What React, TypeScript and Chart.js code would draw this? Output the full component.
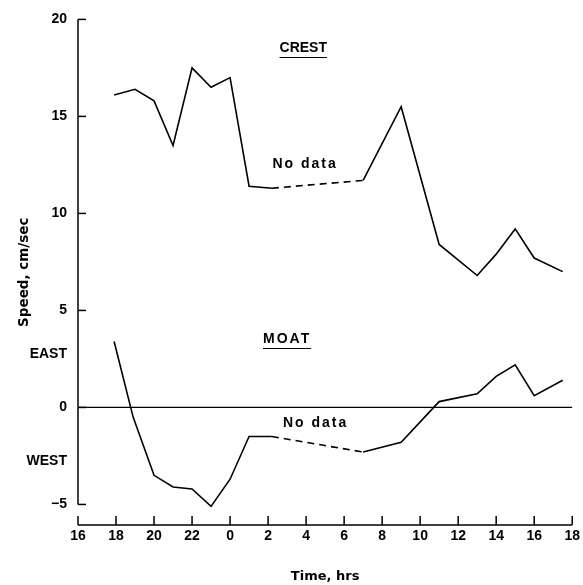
import React, { useEffect, useRef } from 'react';
import { Chart, registerables } from 'chart.js';

Chart.register(...registerables);

// Time in hours since 0h of first day (16 = 16:00, 24 = 0:00 next day, ...)
const crestHours = [17.9, 19, 20, 21, 22, 23, 24, 25, 26.2, 31, 33, 35, 37, 38, 39, 40, 41.5];
const crestSpeed = [16.1, 16.4, 15.8, 13.5, 17.5, 16.5, 17.0, 11.4, 11.3, 11.7, 15.5, 8.4, 6.8, 7.9, 9.2, 7.7, 7.0];

const moatHours = [17.9, 18.9, 20, 21, 22, 23, 24, 25, 26.2, 31, 33, 35, 37, 38, 39, 40, 41.5];
const moatSpeed = [3.4, -0.5, -3.5, -4.1, -4.2, -5.1, -3.7, -1.5, -1.5, -2.3, -1.8, 0.3, 0.7, 1.6, 2.2, 0.6, 1.4];

// index of the segment start where there is no data (dashed)
const noDataSegmentStart = 8;

const xMin = 16;
const xMax = 42;
const xStep = 2;

const yTickValues = [-5, -2.75, 0, 2.75, 5, 10, 15, 20];
const yTickLabels = ['\u22125', 'WEST', '0', 'EAST', '5', '10', '15', '20'];
const yTickMarks = [-5, 0, 5, 10, 15, 20];

const FONT = '"Liberation Sans", Arial, sans-serif';
const WIDE_FONT = '"DejaVu Sans", sans-serif';

const axesPlugin = {
  id: 'customAxes',
  afterDraw(chart: any) {
    const ctx = chart.ctx;
    const xs = chart.scales.x;
    const ys = chart.scales.y;
    const x0 = xs.getPixelForValue(xMin);
    const x1 = xs.getPixelForValue(xMax);
    const bottom = chart.chartArea.bottom;
    ctx.save();
    ctx.strokeStyle = '#000';
    ctx.lineWidth = 1.5;
    // y axis line from -5 to 20
    ctx.beginPath();
    ctx.moveTo(x0, ys.getPixelForValue(-5));
    ctx.lineTo(x0, ys.getPixelForValue(20));
    ctx.stroke();
    // y tick marks (inward)
    yTickMarks.forEach((v) => {
      const y = ys.getPixelForValue(v);
      ctx.beginPath();
      ctx.moveTo(x0, y);
      ctx.lineTo(x0 + 8, y);
      ctx.stroke();
    });
    // x axis line
    ctx.beginPath();
    ctx.moveTo(x0, bottom);
    ctx.lineTo(x1, bottom);
    ctx.stroke();
    // x tick marks (inward)
    for (let h = xMin; h <= xMax; h += xStep) {
      const x = xs.getPixelForValue(h);
      ctx.beginPath();
      ctx.moveTo(x, bottom);
      ctx.lineTo(x, bottom - 9);
      ctx.stroke();
    }
    // zero line
    ctx.lineWidth = 1.2;
    const yz = ys.getPixelForValue(0);
    ctx.beginPath();
    ctx.moveTo(x0, yz);
    ctx.lineTo(x1, yz);
    ctx.stroke();

    // annotations
    ctx.fillStyle = '#000';
    ctx.textAlign = 'center';
    ctx.textBaseline = 'middle';
    const label = (text: string, hx: number, vy: number, spacing: number, underline: boolean) => {
      ctx.font = `bold 14px ${FONT}`;
      (ctx as any).letterSpacing = `${spacing}px`;
      const px = xs.getPixelForValue(hx);
      const py = ys.getPixelForValue(vy);
      ctx.fillText(text, px, py);
      if (underline) {
        const w = ctx.measureText(text).width;
        ctx.lineWidth = 1.2;
        ctx.beginPath();
        ctx.moveTo(px - w / 2, py + 9);
        ctx.lineTo(px + w / 2, py + 9);
        ctx.stroke();
      }
      (ctx as any).letterSpacing = '0px';
    };
    label('CREST', 27.85, 18.5, 0, true);
    label('No data', 27.95, 12.56, 2, false);
    label('MOAT', 27.0, 3.5, 2, true);
    label('No data', 28.5, -0.8, 2, false);
    ctx.restore();
  },
};

export default function App() {
  const ref = useRef<HTMLCanvasElement>(null);
  useEffect(() => {
    document.body.style.margin = '0';
    const canvas = ref.current!;
    const dashSeg = {
      borderDash: (c: any) => (c.p0DataIndex === noDataSegmentStart ? [7, 5] : undefined),
    };
    const chart = new Chart(canvas, {
      type: 'line',
      data: {
        datasets: [
          {
            label: 'CREST',
            data: crestHours.map((h, i) => ({ x: h, y: crestSpeed[i] })),
            borderColor: '#000',
            borderWidth: 1.6,
            pointRadius: 0,
            tension: 0,
            fill: false,
            segment: dashSeg,
          },
          {
            label: 'MOAT',
            data: moatHours.map((h, i) => ({ x: h, y: moatSpeed[i] })),
            borderColor: '#000',
            borderWidth: 1.6,
            pointRadius: 0,
            tension: 0,
            fill: false,
            segment: dashSeg,
          },
        ],
      },
      options: {
        responsive: false,
        animation: false,
        layout: { padding: { top: 16, right: 9, left: 0, bottom: 0 } },
        plugins: { legend: { display: false }, tooltip: { enabled: false } },
        scales: {
          x: {
            type: 'linear',
            min: xMin,
            max: xMax,
            grid: { display: false, drawTicks: false },
            border: { display: false },
            ticks: {
              stepSize: xStep,
              padding: 3,
              color: '#000',
              font: { family: FONT, size: 14, weight: 'bold' },
              maxRotation: 0,
              callback: (v: any) => String(Number(v) % 24),
            },
            title: {
              display: true,
              text: 'Time, hrs',
              color: '#000',
              font: { family: WIDE_FONT, size: 13, weight: 'bold' },
              padding: { top: 0, bottom: 1 },
            },
            afterFit: (s: any) => {
              s.height = 60;
            },
          },
          y: {
            type: 'linear',
            min: -6.06,
            max: 20,
            grid: { display: false, drawTicks: false },
            border: { display: false },
            afterBuildTicks: (s: any) => {
              s.ticks = yTickValues.map((v) => ({ value: v }));
            },
            ticks: {
              autoSkip: false,
              padding: 11,
              color: '#000',
              font: { family: FONT, size: 14, weight: 'bold' },
              callback: (v: any) => {
                const i = yTickValues.indexOf(Number(v));
                return i >= 0 ? yTickLabels[i] : '';
              },
            },
            title: {
              display: true,
              text: 'Speed, cm/sec',
              color: '#000',
              font: { family: WIDE_FONT, size: 13.5, weight: 'bold' },
              padding: { top: 16, bottom: 0 },
            },
            afterFit: (s: any) => {
              s.width = 78;
            },
          },
        },
      },
      plugins: [axesPlugin],
    });
    return () => chart.destroy();
  }, []);
  return (
    <div style={{ width: 583, height: 585, position: 'relative' }}>
      <canvas ref={ref} width={583} height={585} style={{ display: 'block' }} />
    </div>
  );
}
